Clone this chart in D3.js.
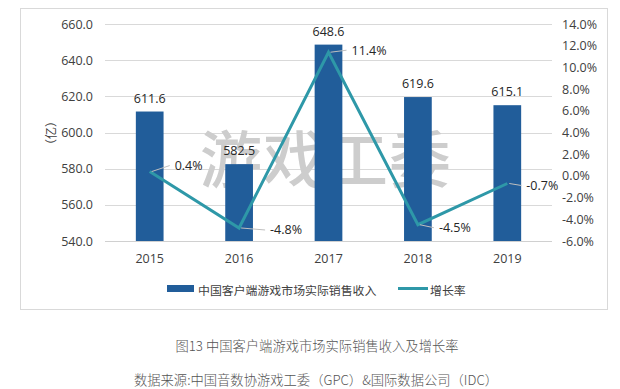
<!DOCTYPE html>
<html><head><meta charset="utf-8">
<script src="https://cdn.jsdelivr.net/npm/d3@7/dist/d3.min.js"></script>
<style>body{margin:0;background:#fff}svg{display:block}</style>
</head><body>
<script>
const years = ["2015","2016","2017","2018","2019"];
const revenue = [611.6, 582.5, 648.6, 619.6, 615.1];
const growth = [0.4, -4.8, 11.4, -4.5, -0.7];
const leftTicks = [540, 560, 580, 600, 620, 640, 660];
const rightTicks = [-6, -4, -2, 0, 2, 4, 6, 8, 10, 12, 14];
const seriesNames = ["中国客户端游戏市场实际销售收入", "增长率"];
const yTitle = "（亿）";
const watermark = "游戏工委";
const caption = "图13 中国客户端游戏市场实际销售收入及增长率";
const source = "数据来源:中国音数协游戏工委（GPC）&国际数据公司（IDC）";

const W = 620, H = 389;
const barColor = "#215D9A", lineColor = "#2E98A8";
const numFont = "'Open Sans','Noto Sans',sans-serif";
const cjk = "'Noto Sans CJK SC',sans-serif";
const svg = d3.select("body").append("svg").attr("width", W).attr("height", H);

const plot = {l: 105, r: 552, t: 24, b: 241};
const x = d3.scaleBand().domain(years).range([plot.l, plot.r]).paddingInner(0.69).paddingOuter(0.345);
const yL = d3.scaleLinear().domain([540, 660]).range([plot.b, plot.t]);
const yR = d3.scaleLinear().domain([-6, 14]).range([plot.b, plot.t]);

// frame
svg.append("rect").attr("x", 20.5).attr("y", 8.5).attr("width", 587).attr("height", 301)
  .attr("fill", "none").attr("stroke", "#d9d9d9");

// gridlines
svg.append("g").selectAll("line").data(leftTicks).join("line")
  .attr("x1", plot.l).attr("x2", plot.r)
  .attr("y1", d => Math.round(yL(d)) + 0.5).attr("y2", d => Math.round(yL(d)) + 0.5)
  .attr("stroke", d => d === 540 ? "#d0d0d0" : "#d9d9d9").attr("stroke-width", 1);

// left axis labels
const gL = svg.append("g").attr("transform", `translate(${plot.l},0)`)
  .call(d3.axisLeft(yL).tickValues(leftTicks).tickFormat(d3.format(".1f")).tickSize(0).tickPadding(12));
gL.select(".domain").remove();
gL.selectAll("text").attr("font-family", numFont).attr("font-size", 12.5).attr("fill", "#404040");

// right axis labels
const gR = svg.append("g").attr("transform", `translate(${plot.r},0)`)
  .call(d3.axisRight(yR).tickValues(rightTicks).tickFormat(d => d.toFixed(1) + "%").tickSize(0).tickPadding(10));
gR.select(".domain").remove();
gR.selectAll("text").attr("font-family", numFont).attr("font-size", 12.5).attr("fill", "#404040");

// y title
svg.append("text").attr("transform", `translate(50,133) rotate(-90)`).attr("text-anchor", "middle")
  .attr("dominant-baseline", "central")
  .attr("font-family", cjk).attr("font-size", 12).attr("fill", "#404040").text(yTitle);

// watermark
svg.append("text").attr("x", 326).attr("y", 183).attr("text-anchor", "middle")
  .attr("font-family", cjk).attr("font-size", 62).attr("font-weight", 500).attr("fill", "#cdcdcd")
  .attr("letter-spacing", 1).text(watermark);

// bars
svg.append("g").selectAll("rect").data(years).join("rect")
  .attr("x", d => x(d)).attr("width", x.bandwidth())
  .attr("y", (d, i) => yL(revenue[i])).attr("height", (d, i) => yL(540) - yL(revenue[i]))
  .attr("fill", barColor);

// bar labels
svg.append("g").selectAll("text").data(years).join("text")
  .attr("x", d => x(d) + x.bandwidth() / 2).attr("y", (d, i) => yL(revenue[i]) - 9)
  .attr("text-anchor", "middle").attr("font-family", numFont).attr("font-size", 12.5).attr("fill", "#262626")
  .text((d, i) => revenue[i].toFixed(1));

// line
const cx = d => x(d) + x.bandwidth() / 2;
const line = d3.line().x((d, i) => cx(years[i])).y(d => yR(d));
svg.append("path").datum(growth).attr("d", line).attr("fill", "none")
  .attr("stroke", lineColor).attr("stroke-width", 3).attr("stroke-linejoin", "miter");

// growth labels with leader lines
const offs = [[22, -6], [28, 2], [20, -2], [18, 3], [16, 2]];
const lab = svg.append("g");
growth.forEach((g, i) => {
  const px = cx(years[i]), py = yR(g);
  const lx = px + offs[i][0], ly = py + offs[i][1];
  lab.append("line").attr("x1", px + 2).attr("y1", py).attr("x2", lx - 2).attr("y2", ly)
    .attr("stroke", "#bfbfbf").attr("stroke-width", 1);
  lab.append("text").attr("x", lx + 3).attr("y", ly).attr("dominant-baseline", "central")
    .attr("font-family", numFont).attr("font-size", 12.5).attr("fill", "#262626")
    .text(g.toFixed(1) + "%");
});

// x labels
svg.append("g").selectAll("text").data(years).join("text")
  .attr("x", d => cx(d)).attr("y", 263).attr("text-anchor", "middle")
  .attr("font-family", numFont).attr("font-size", 12.5).attr("fill", "#404040").text(d => d);

// legend
svg.append("rect").attr("x", 167).attr("y", 285).attr("width", 27).attr("height", 7).attr("fill", barColor);
svg.append("text").attr("x", 198).attr("y", 289).attr("dominant-baseline", "central")
  .attr("font-family", cjk).attr("font-size", 11.9).attr("fill", "#404040").text(seriesNames[0]);
svg.append("line").attr("x1", 398).attr("x2", 428).attr("y1", 288.5).attr("y2", 288.5)
  .attr("stroke", lineColor).attr("stroke-width", 3);
svg.append("text").attr("x", 430).attr("y", 289).attr("dominant-baseline", "central")
  .attr("font-family", cjk).attr("font-size", 11.9).attr("fill", "#404040").text(seriesNames[1]);

// captions
svg.append("text").attr("x", 317).attr("y", 345).attr("text-anchor", "middle").attr("dominant-baseline", "central")
  .attr("font-family", cjk).attr("font-size", 13.3).attr("fill", "#555").attr("font-weight", 300).text(caption);
svg.append("text").attr("x", 316).attr("y", 379).attr("text-anchor", "middle").attr("dominant-baseline", "central")
  .attr("font-family", cjk).attr("font-size", 13.3).attr("fill", "#555").attr("font-weight", 300).text(source);
</script>
</body></html>
